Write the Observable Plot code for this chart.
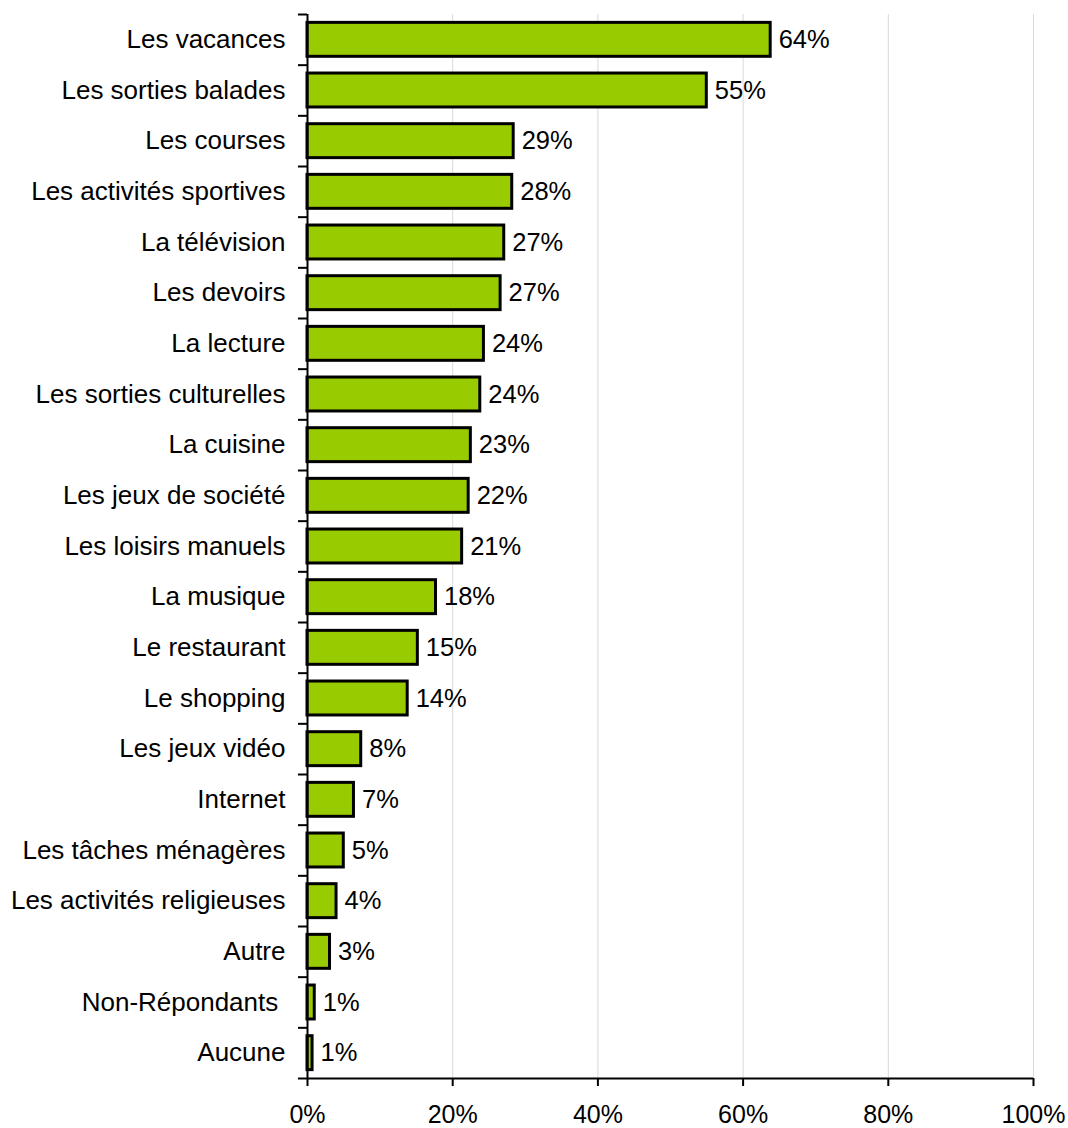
<!DOCTYPE html>
<html>
<head>
<meta charset="utf-8">
<script src="https://cdn.jsdelivr.net/npm/d3@7"></script>
<script src="https://cdn.jsdelivr.net/npm/@observablehq/plot@0.6"></script>
<style>
  html, body { margin: 0; padding: 0; background: #ffffff; }
  #chart svg { display: block; }
</style>
</head>
<body>
<div id="chart"></div>
<script>
const categories = [
  "Les vacances", "Les sorties balades", "Les courses", "Les activités sportives",
  "La télévision", "Les devoirs", "La lecture", "Les sorties culturelles",
  "La cuisine", "Les jeux de société", "Les loisirs manuels", "La musique",
  "Le restaurant", "Le shopping", "Les jeux vidéo", "Internet",
  "Les tâches ménagères", "Les activités religieuses", "Autre",
  "Non-Répondants\u00A0", "Aucune"
];
const values = [
  63.8, 55.0, 28.4, 28.2, 27.1, 26.6, 24.3, 23.8,
  22.5, 22.2, 21.3, 17.7, 15.2, 13.8, 7.4, 6.4,
  5.0, 4.0, 3.1, 1.0, 0.7
];
const valueLabels = [
  "64%", "55%", "29%", "28%", "27%", "27%", "24%", "24%",
  "23%", "22%", "21%", "18%", "15%", "14%", "8%", "7%",
  "5%", "4%", "3%", "1%", "1%"
];
const xTicks = [0, 20, 40, 60, 80, 100];

const data = categories.map((c, i) => ({category: c, value: values[i], label: valueLabels[i]}));

const W = 1068, H = 1128, mTop = 14, mBottom = 50, mLeft = 307, mRight = 35;
const step = (H - mTop - mBottom) / categories.length;

const chart = Plot.plot({
  width: W,
  height: H,
  marginLeft: mLeft,
  marginRight: mRight,
  marginTop: mTop,
  marginBottom: mBottom,
  style: {fontFamily: "'Liberation Sans', Arial, sans-serif", fontSize: "22px", color: "#000", background: "#fff"},
  x: {domain: [0, 100], axis: null},
  y: {domain: categories, paddingInner: 0.33, paddingOuter: 0.165, round: false, axis: null},
  marks: [
    Plot.gridX(xTicks.filter(d => d > 0), {stroke: "#d9d9d9", strokeOpacity: 1, strokeWidth: 1}),
    Plot.barX(data, {x: "value", y: "category", fill: "#99cc00", stroke: "#000", strokeWidth: 3}),
    Plot.text(data, {x: "value", y: "category", text: "label", textAnchor: "start", dx: 8, fontSize: 25.5, fill: "#000"}),
    Plot.ruleX([0], {stroke: "#000", strokeWidth: 2}),
    Plot.ruleY([categories[categories.length - 1]], {dy: step / 2, stroke: "#000", strokeWidth: 2}),
    Plot.axisY({tickSize: 0, tickPadding: 22, fontSize: 26, label: null}),
    Plot.axisY({tickSize: 9, tickFormat: () => "", label: null, dy: -step / 2, strokeWidth: 2}),
    Plot.axisY([categories[categories.length - 1]], {tickSize: 9, tickFormat: () => "", label: null, dy: step / 2, strokeWidth: 2}),
    Plot.axisX({ticks: xTicks, tickFormat: d => d + "%", tickSize: 8, tickPadding: 19, fontSize: 25, label: null, strokeWidth: 2})
  ]
});
document.getElementById("chart").appendChild(chart);
</script>
</body>
</html>
